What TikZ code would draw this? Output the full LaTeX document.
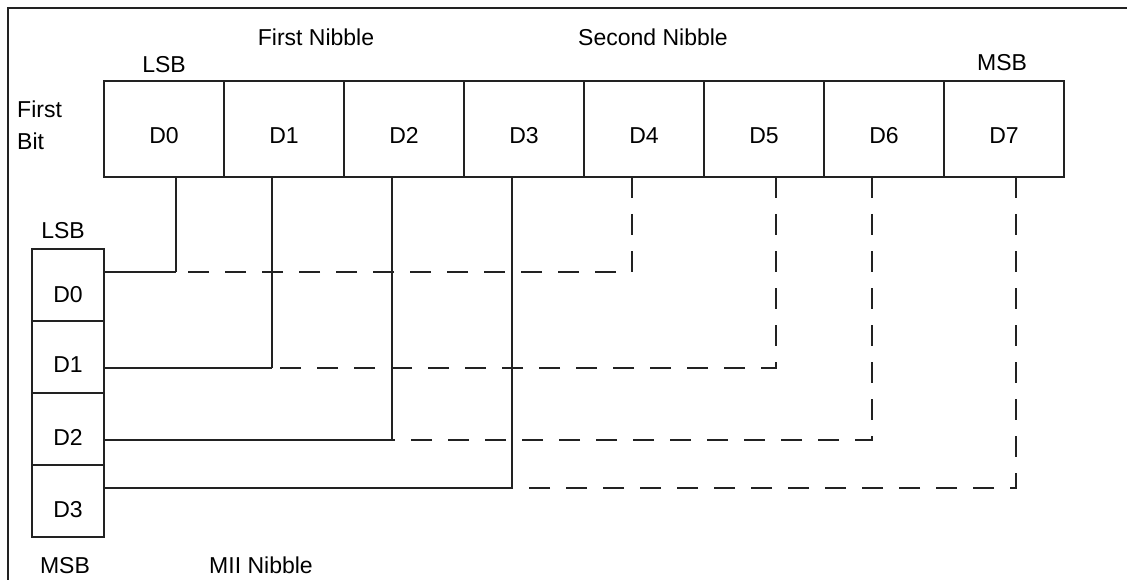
\documentclass[tikz,border=0pt]{standalone}
\usepackage{fontspec}
\setmainfont{Liberation Sans}
\begin{document}
\begin{tikzpicture}[x=1pt,y=-1pt,
  ln/.style={draw=lncol,line width=1.7pt},
  dsh/.style={ln,dash pattern=on 21pt off 16pt},
  topbox/.style={ln,minimum width=120pt,minimum height=96pt,inner sep=0pt,outer sep=0pt},
  sidebox/.style={ln,minimum width=72pt,minimum height=72pt,inner sep=0pt,outer sep=0pt},
  txt/.style={inner sep=0pt,font=\fontsize{23}{27}\selectfont,text=black}]
\definecolor{lncol}{RGB}{34,34,34}
\useasboundingbox (0,0) rectangle (1127,580);
% frame (top and left)
\coordinate (fa) at (1127,8);
\coordinate (fb) at (8,8);
\coordinate (fc) at (8,580);
\draw[ln] (fa) -- (fb) -- (fc);
% top row boxes
\foreach \i in {0,...,7}{
  \node[topbox] (b\i) at (164+120*\i,129) {};
  \node[txt,anchor=base] (bt\i) at (164+120*\i,144) {D\i};
}
% side boxes
\foreach \i/\yb in {0/302,1/372,2/445,3/517}{
  \node[sidebox] (l\i) at (68,285+72*\i) {};
  \node[txt,anchor=base] (lt\i) at (68,\yb) {D\i};
}
% labels
\node[txt,anchor=base] (fn) at (316,45.7) {First Nibble};
\node[txt,anchor=base] (sn) at (653,45.7) {Second Nibble};
\node[txt,anchor=base] (lsbt) at (164,73) {LSB};
\node[txt,anchor=base] (msbt) at (1002,71) {MSB};
\node[txt,anchor=base west] (fbit1) at (17,118) {First};
\node[txt,anchor=base west] (fbit2) at (17,150) {Bit};
\node[txt,anchor=base] (lsbl) at (63,238) {LSB};
\node[txt,anchor=base] (msbl) at (65,573) {MSB};
\node[txt,anchor=base] (mii) at (261,573) {MII Nibble};
% junctions
\coordinate (j0) at (176,272);
\coordinate (j1) at (272,368);
\coordinate (j2) at (392,440);
\coordinate (j3) at (512,488);
\coordinate (k0) at (632,272);
\coordinate (k1) at (776,368);
\coordinate (k2) at (872,440);
\coordinate (k3) at (1016,488);
% solid connectors
\draw[ln] (b0.south -| j0) -- (j0);
\draw[ln] (b1.south -| j1) -- (j1);
\draw[ln] (b2.south -| j2) -- (j2);
\draw[ln] (b3.south -| j3) -- (j3);
\draw[ln] (l0.east |- j0) -- (j0);
\draw[ln] (l1.east |- j1) -- (j1);
\draw[ln] (l2.east |- j2) -- (j2);
\draw[ln] (l3.east |- j3) -- (j3);
% dashed connectors
\draw[dsh] (b4.south -| k0) -- (k0) -- (j0);
\draw[dsh] (b5.south -| k1) -- (k1) -- (j1);
\draw[dsh] (b6.south -| k2) -- (k2) -- (j2);
\draw[dsh] (b7.south -| k3) -- (k3) -- (j3);
\end{tikzpicture}
\end{document}
